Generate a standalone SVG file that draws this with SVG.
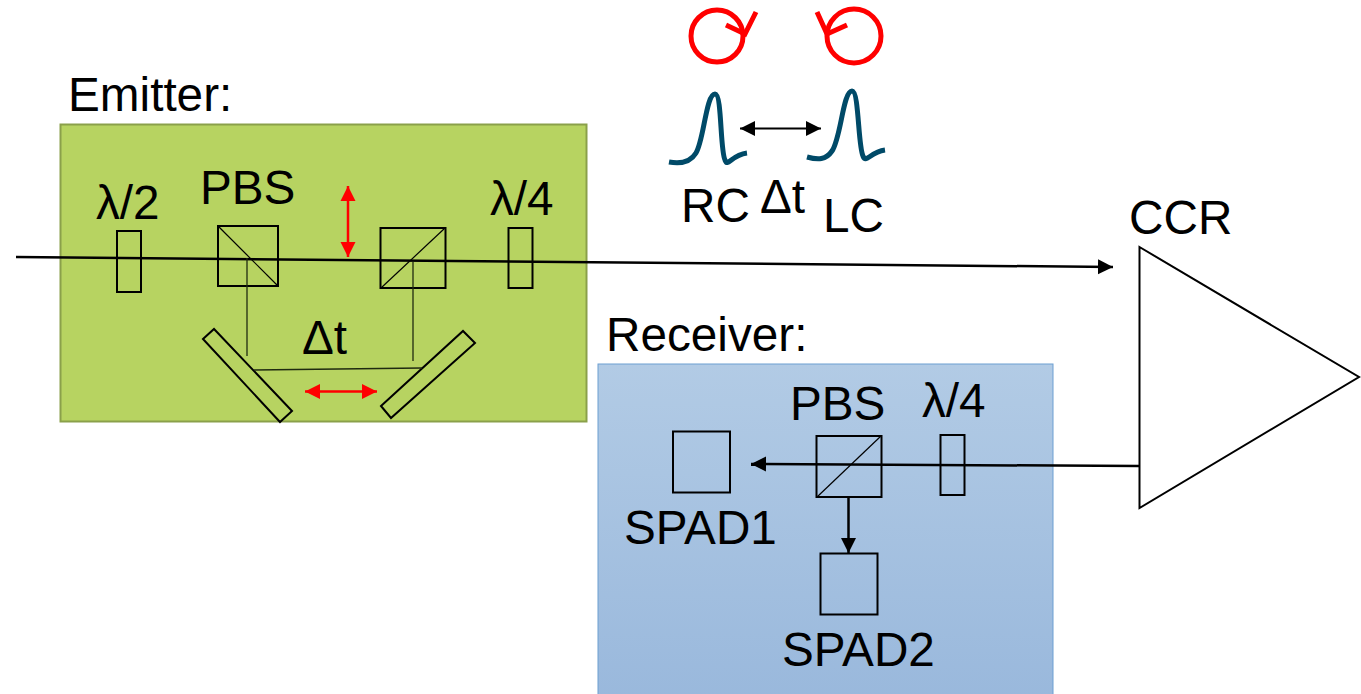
<svg xmlns="http://www.w3.org/2000/svg" width="1361" height="694" viewBox="0 0 1361 694">
<style>
text{font-family:"Liberation Sans",Arial,sans-serif;fill:#000;font-size:47.700px}
.o{fill:none;stroke:#000;stroke-width:2}
.t{fill:none;stroke:#000;stroke-width:1.200}
.m{fill:none;stroke:#1f2a10;stroke-width:1.300}
.b{fill:none;stroke:#000;stroke-width:2.500}
.r{fill:none;stroke:#f00;stroke-width:2.500}
.c{fill:none;stroke:#f00;stroke-width:5}
.p{fill:none;stroke:#004a68;stroke-width:5}
</style>
<defs>
<linearGradient id="bl" x1="0" y1="0" x2="0" y2="1"><stop offset="0" stop-color="#b2cbe5"/><stop offset="1" stop-color="#99b8dc"/></linearGradient>
<marker id="ak" markerUnits="userSpaceOnUse" markerWidth="16" markerHeight="16" refX="15" refY="8" orient="auto-start-reverse"><path d="M0,0.5L15,8L0,15.5Z" fill="#000"/></marker>
<marker id="ar" markerUnits="userSpaceOnUse" markerWidth="16" markerHeight="16" refX="15" refY="8" orient="auto-start-reverse"><path d="M0,0.5L15,8L0,15.5Z" fill="#f00"/></marker>
</defs>
<g id="emitter"><rect x="60.500" y="124.500" width="526" height="297" fill="#b7d361" stroke="#8aa04a" stroke-width="2"/><text x="68" y="111">Emitter:</text></g>
<g id="receiver"><rect x="598" y="364" width="455" height="340" fill="url(#bl)" stroke="#6d9fd2" stroke-width="1"/><text x="606" y="351">Receiver:</text></g>
<g id="hwp"><rect x="117" y="231" width="24" height="61" class="o"/><text x="96" y="219">λ/2</text></g>
<g id="pbs1"><rect x="218" y="226" width="60" height="60" class="o"/><path d="M218,226L278,286" class="t"/><text x="200" y="204">PBS</text></g>
<g id="pbs2"><rect x="380.500" y="228" width="65" height="60" class="o"/><path d="M381,288L445,228" class="t"/></g>
<g id="qwp1"><rect x="508.500" y="228" width="24" height="60" class="o"/><text x="490" y="215">λ/4</text></g>
<g id="mirror1"><path d="M203,339L214,329L292,411L280,422Z" class="o"/></g>
<g id="mirror2"><path d="M381,406L463,331L475,343L391,418Z" class="o"/></g>
<g id="delay-label"><text x="302" y="354">Δt</text></g>
<g id="ccr"><path d="M1139.500,247L1359,377L1139.500,508Z" class="o"/><text x="1129" y="234">CCR</text></g>
<g id="qwp2"><rect x="940.500" y="435" width="24" height="60" class="o"/><text x="922" y="417">λ/4</text></g>
<g id="pbs3"><rect x="816.500" y="436" width="65" height="61" class="o"/><path d="M817,497L881,436" class="t"/><text x="790" y="420">PBS</text></g>
<g id="spad1"><rect x="673" y="431.500" width="57" height="61" class="o"/><text x="624" y="544">SPAD1</text></g>
<g id="spad2"><rect x="820.500" y="553.500" width="57" height="61" class="o"/><text x="782" y="666">SPAD2</text></g>
<g id="rc-pulse"><circle cx="717" cy="36" r="26" class="c"/><path d="M756,12L745,34L726,25" class="c"/><path class="p" d="M669,162C680,164 690,163 696,153C704,140 706,94 715,94C722,94 720,150 725,160C728,168 731,155 747,153"/><text x="681" y="222">RC</text></g>
<g id="lc-pulse"><circle cx="854" cy="36" r="27" class="c"/><path d="M817,12L827,34L847,25" class="c"/><path class="p" d="M807,157C818,160 826,160 832,151C841,138 843,91 852,91C859,91 858,146 863,156C866,164 870,152 885,150"/><text x="823" y="232">LC</text></g>
<g id="pulse-delay-label"><text x="760" y="213">Δt</text></g>
<g id="connectors">
<path d="M16,257L1113,267" class="b" marker-end="url(#ak)"/>
<path d="M247,258V356" class="m"/>
<path d="M413,262V361" class="m"/>
<path d="M254,370L422,368" class="m"/>
<path d="M1139,466L751,464" class="b" marker-end="url(#ak)"/>
<path d="M848.500,497V553" class="b" marker-end="url(#ak)"/>
<path d="M740,128.500H821" stroke="#000" stroke-width="2" marker-start="url(#ak)" marker-end="url(#ak)"/>
<path d="M348,186V257" class="r" marker-start="url(#ar)" marker-end="url(#ar)"/>
<path d="M305,391.500H377" class="r" marker-start="url(#ar)" marker-end="url(#ar)"/>
</g>
</svg>
